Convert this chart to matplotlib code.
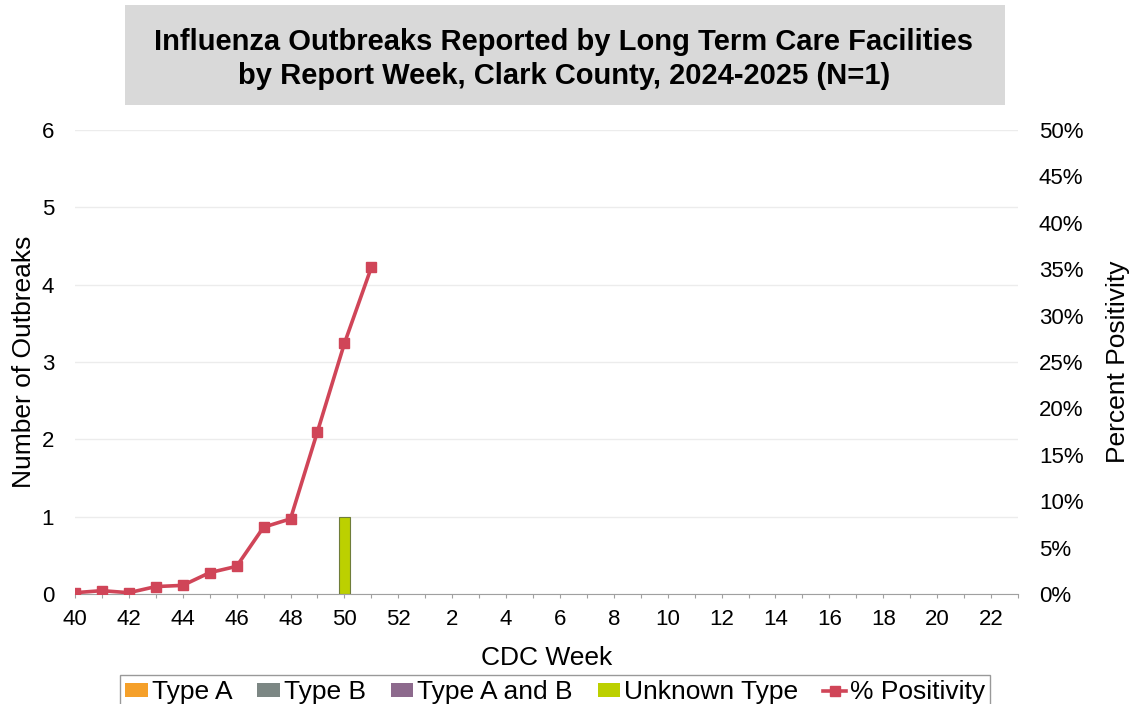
import numpy as np
import matplotlib
matplotlib.use('Agg')
import matplotlib.pyplot as plt
from matplotlib.patches import Patch, Rectangle
from matplotlib.lines import Line2D

plt.rcParams['font.family'] = ['Liberation Sans', 'DejaVu Sans']

# CDC weeks of the 2024-2025 season
weeks = list(range(40, 53)) + list(range(1, 24))
tick_labels = [str(w) if w % 2 == 0 else '' for w in weeks]

# outbreak counts by type (only week 50 has one, unknown type)
type_a = [0] * len(weeks)
type_b = [0] * len(weeks)
type_ab = [0] * len(weeks)
unknown = [0] * len(weeks)
unknown[weeks.index(50)] = 1

# percent positivity, weeks 40-51
pos_weeks = [40, 41, 42, 43, 44, 45, 46, 47, 48, 49, 50, 51]
positivity = [0.14, 0.36, 0.14, 0.8, 0.93, 2.3, 2.98, 7.2, 8.1, 17.5, 27.0, 35.2]

c_a = '#f5a02a'
c_b = '#7c8784'
c_ab = '#8d6a8d'
c_unk = '#bcd000'
c_line = '#d04558'

fig = plt.figure(figsize=(11.34, 7.04), dpi=100)
ax = fig.add_axes([0.0661, 0.15625, 0.8316, 0.659])

x = np.arange(len(weeks))
w = 0.42
bottom = np.zeros(len(weeks))
for vals, col in [(type_a, c_a), (type_b, c_b), (type_ab, c_ab), (unknown, c_unk)]:
    v = np.array(vals, dtype=float)
    nz = v > 0
    # skip empty weeks so no zero-height outlines show on the axis
    ax.bar(x[nz], v[nz], width=w, bottom=bottom[nz], color=col,
           edgecolor='#6f7d3a', linewidth=0.8, zorder=3)
    bottom += v

ax.set_xlim(0, len(weeks) - 1)
ax.set_ylim(0, 6)
ax.set_yticks(range(0, 7))
ax.set_xticks(x)
ax.set_xticklabels(tick_labels)
ax.tick_params(axis='y', length=0, labelsize=16, pad=15)
ax.tick_params(axis='x', length=3, color='#a0a0a0', labelsize=16, pad=8)
ax.grid(axis='y', color='#ececec', linewidth=1, zorder=0)
for s in ['top', 'left', 'right']:
    ax.spines[s].set_visible(False)
ax.spines['bottom'].set_color('#a0a0a0')
ax.spines['bottom'].set_zorder(5)
ax.set_ylabel('Number of Outbreaks', fontsize=19)
ax.yaxis.set_label_coords(-0.0415, 0.5)
ax.set_xlabel('CDC Week', fontsize=19, labelpad=11)

ax2 = ax.twinx()
px = [weeks.index(wk) for wk in pos_weeks]
ax2.plot(px, positivity, color=c_line, linewidth=2.6, marker='s',
         markersize=7, zorder=4)
ax2.set_ylim(0, 50)
ax2.set_yticks(range(0, 51, 5))
ax2.set_yticklabels([f'{v}%' for v in range(0, 51, 5)])
ax2.tick_params(axis='y', length=0, labelsize=16, pad=15)
for s in ['top', 'left', 'right', 'bottom']:
    ax2.spines[s].set_visible(False)
ax2.set_ylabel('Percent Positivity', fontsize=19)
ax2.yaxis.set_label_coords(1.093, 0.5)

# title box
fig.patches.append(Rectangle((125 / 1134, 1 - 105 / 704), 880 / 1134, 100 / 704,
                             transform=fig.transFigure, facecolor='#d9d9d9',
                             edgecolor='none'))
fig.text(564 / 1134, 1 - 59 / 704,
         'Influenza Outbreaks Reported by Long Term Care Facilities\n'
         'by Report Week, Clark County, 2024-2025 (N=1)',
         ha='center', va='center', fontsize=21, fontweight='bold',
         linespacing=1.25)

handles = [Patch(facecolor=c_a, edgecolor='none', label='Type A'),
           Patch(facecolor=c_b, edgecolor='none', label='Type B'),
           Patch(facecolor=c_ab, edgecolor='none', label='Type A and B'),
           Patch(facecolor=c_unk, edgecolor='none', label='Unknown Type'),
           Line2D([0], [0], color=c_line, linewidth=2.6, marker='s',
                  markersize=7, label='% Positivity')]
leg = fig.legend(handles=handles, loc='upper center', ncol=5,
                 bbox_to_anchor=(555 / 1134, 1 - 675 / 704), fontsize=19,
                 frameon=True, fancybox=False, handlelength=0.85,
                 handleheight=0.45, handletextpad=0.15, columnspacing=0.95,
                 borderpad=0.2, borderaxespad=0)
leg.get_frame().set_edgecolor('#808080')
leg.get_frame().set_linewidth(1)

fig.savefig('out.png', dpi=100)
